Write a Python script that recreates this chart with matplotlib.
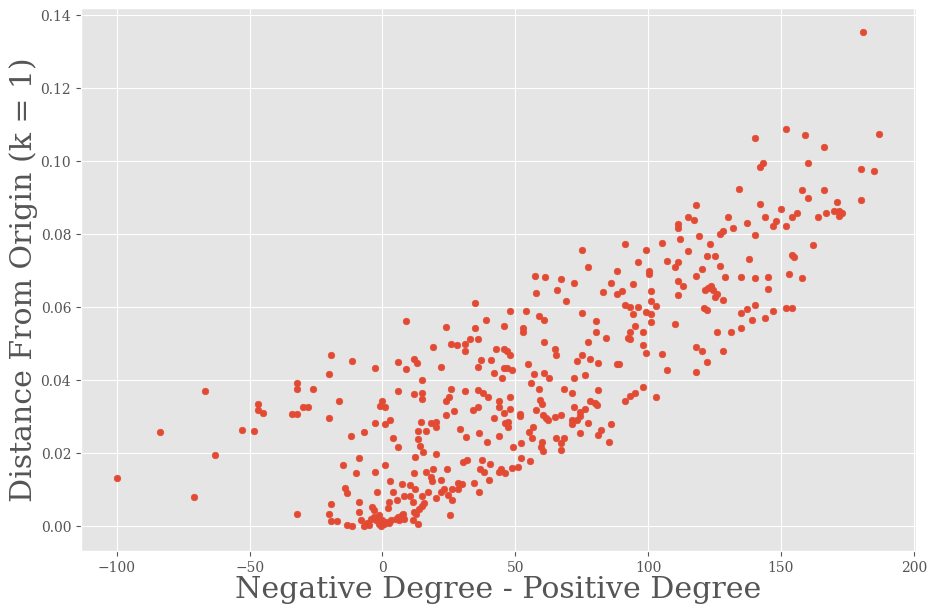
#!/usr/bin/env python3
"""Scatter of degree imbalance vs. distance from origin (k = 1)."""
import matplotlib
matplotlib.use("Agg")
import matplotlib.pyplot as plt

# (negative degree - positive degree, distance from origin), grouped by area of the plot
left_tail = [
    (-100, 0.0133), (-83.8, 0.0259), (-66.9, 0.0372), (-63.2, 0.0196), (-71.0, 0.0081),
    (-53.0, 0.0265), (-48.2, 0.0262), (-47.0, 0.0334), (-47.0, 0.0320), (-45.1, 0.0311),
    (-34.2, 0.0309), (-32.0, 0.0309), (-32.0, 0.0394), (-32.0, 0.0377), (-32.0, 0.0035),
    (-26.3, 0.0377), (-30.1, 0.0328), (-28.2, 0.0328), (-20.3, 0.0418), (-20.3, 0.0298),
    (-20.3, 0.0035), (-19.2, 0.0468), (-19.2, 0.0062), (-19.2, 0.0016), (-17.3, 0.0016),
    (-16.2, 0.0342), (-15.0, 0.0169), (-14.3, 0.0106), (-13.2, 0.0092), (-13.2, 0.0005),
    (-12.0, 0.0248), (-11.3, 0.0454), (-11.3, 0.0002), (-10.1, 0.0147), (-8.8, 0.0040),
]

near_origin = [
    (-3.0, 0.0284), (1.1, 0.0280), (14.4, 0.0287), (18.2, 0.0284), (20.1, 0.0287),
    (20.0, 0.0272), (-6.8, 0.0258), (4.1, 0.0242), (6.0, 0.0217), (13.2, 0.0262),
    (16.2, 0.0261), (13.2, 0.0239), (14.2, 0.0220), (15.1, 0.0205), (20.0, 0.0197),
    (12.1, 0.0189), (29.0, 0.0266), (31.3, 0.0245), (36.2, 0.0255), (39.2, 0.0230),
    (43.7, 0.0248), (46.0, 0.0284), (47.1, 0.0287), (47.1, 0.0272), (49.0, 0.0217),
    (52.0, 0.0228), (55.0, 0.0258), (56.5, 0.0273), (56.2, 0.0241), (60.1, 0.0232),
    (59.7, 0.0218), (60.3, 0.0207), (65.3, 0.0241), (62.2, 0.0292),
    (-8.8, 0.0186), (1.1, 0.0167), (-3.0, 0.0150), (11.7, 0.0147), (16.2, 0.0150),
    (19.2, 0.0156), (24.1, 0.0156), (30.2, 0.0175), (32.0, 0.0181), (37.3, 0.0181),
    (40.3, 0.0170), (36.7, 0.0156), (38.1, 0.0150), (43.7, 0.0148), (44.5, 0.0156),
    (46.0, 0.0145), (48.6, 0.0159), (50.9, 0.0163), (52.0, 0.0186), (55.5, 0.0178),
    (3.0, 0.0123), (7.2, 0.0117), (10.2, 0.0112), (12.1, 0.0101), (18.1, 0.0134),
    (18.5, 0.0123), (22.2, 0.0126), (28.3, 0.0120), (29.9, 0.0116), (34.3, 0.0120),
    (40.0, 0.0126), (-1.9, 0.0095), (4.1, 0.0095), (8.2, 0.0082), (10.2, 0.0084),
    (11.3, 0.0067), (14.7, 0.0083), (17.0, 0.0093), (20.0, 0.0079), (22.2, 0.0095),
    (23.2, 0.0101), (24.5, 0.0086), (26.0, 0.0073), (26.0, 0.0101), (28.3, 0.0101),
    (36.2, 0.0093), (5.3, 0.0073), (2.3, 0.0067), (-8.8, 0.0067), (-3.8, 0.0053),
    (-3.1, 0.0044), (1.9, 0.0049), (15.8, 0.0064), (14.7, 0.0055), (13.8, 0.0048),
    (12.8, 0.0035), (25.3, 0.0032),
    (-8.2, 0.0017), (-6.9, 0.0000), (-6.0, 0.0009), (-4.4, 0.0021), (-3.1, 0.0026),
    (-2.3, 0.0017), (-1.5, 0.0006), (-0.6, 0.0000), (0.0, 0.0017), (0.6, 0.0006),
    (1.5, 0.0012), (2.5, 0.0009), (5.0, 0.0021), (6.0, 0.0026), (7.3, 0.0030),
    (6.3, 0.0017), (8.2, 0.0021), (7.8, 0.0035), (11.3, 0.0017), (13.2, 0.0006),
    (11.9, 0.0039), (-1.3, 0.0030), (-5.0, 0.0003), (3.1, 0.0018),
]

middle_upper = [
    (57.8, 0.0639), (34.9, 0.0613), (9.0, 0.0563), (24.0, 0.0547), (39.0, 0.0566),
    (48.0, 0.0591), (54.0, 0.0591), (58.9, 0.0577), (60.8, 0.0566), (45.8, 0.0550),
    (34.9, 0.0542), (52.8, 0.0544), (52.8, 0.0531), (25.9, 0.0500), (28.1, 0.0498),
    (31.1, 0.0500), (33.0, 0.0514), (36.0, 0.0514), (31.1, 0.0481), (60.8, 0.0506),
    (19.1, 0.0490), (64.9, 0.0487), (65.4, 0.0468), (6.0, 0.0451), (12.0, 0.0459),
    (13.1, 0.0448), (9.0, 0.0432), (-3.0, 0.0435), (22.1, 0.0437), (42.8, 0.0487),
    (45.8, 0.0487), (46.9, 0.0479), (48.0, 0.0470), (37.1, 0.0457), (40.9, 0.0457),
    (36.0, 0.0437), (45.8, 0.0435), (46.9, 0.0435), (48.8, 0.0429), (42.0, 0.0421),
    (45.0, 0.0407), (54.8, 0.0446), (57.0, 0.0416), (60.8, 0.0421), (62.6, 0.0405),
    (55.9, 0.0394), (58.9, 0.0377), (15.0, 0.0402), (6.0, 0.0372), (12.0, 0.0363),
    (15.0, 0.0366), (15.0, 0.0350), (25.9, 0.0377), (25.1, 0.0355), (24.0, 0.0342),
    (31.1, 0.0372), (36.0, 0.0374), (37.9, 0.0366), (39.8, 0.0353), (48.0, 0.0353),
    (43.9, 0.0342), (43.9, 0.0328), (48.0, 0.0322), (45.8, 0.0311), (51.8, 0.0309),
    (51.8, 0.0303), (59.4, 0.0347), (60.0, 0.0336), (57.8, 0.0320), (60.6, 0.0304),
    (61.5, 0.0298), (65.0, 0.0300), (0.0, 0.0344), (-0.8, 0.0331), (1.1, 0.0328),
    (27.0, 0.0317), (24.0, 0.0306), (34.1, 0.0320), (36.0, 0.0328), (3.0, 0.0292),
    (42.0, 0.0298), (57.4, 0.0687), (61.1, 0.0684), (65.6, 0.0648),
]

right_lower = [
    (68.3, 0.0377), (71.3, 0.0366), (81.1, 0.0374), (98.0, 0.0383), (95.0, 0.0366),
    (93.1, 0.0358), (91.3, 0.0344), (102.9, 0.0353), (78.1, 0.0342), (80.0, 0.0338),
    (80.6, 0.0333), (72.1, 0.0328), (76.2, 0.0322), (74.3, 0.0314), (74.3, 0.0303),
    (67.3, 0.0306), (71.3, 0.0290), (73.2, 0.0290), (71.3, 0.0281), (77.3, 0.0284),
    (86.0, 0.0279), (82.2, 0.0265), (81.1, 0.0251), (74.3, 0.0257), (85.2, 0.0232),
    (68.3, 0.0243), (67.3, 0.0227), (67.3, 0.0210),
]

right_middle = [
    (118.0, 0.0879), (115.0, 0.0848), (117.3, 0.0840), (130.1, 0.0848), (132.0, 0.0818),
    (111.2, 0.0827), (111.2, 0.0816), (119.1, 0.0796), (127.1, 0.0802), (128.2, 0.0810),
    (112.0, 0.0788), (123.3, 0.0774), (105.2, 0.0777), (91.3, 0.0774), (75.1, 0.0758),
    (99.2, 0.0758), (115.0, 0.0755), (122.2, 0.0741), (125.2, 0.0741), (107.1, 0.0728),
    (111.2, 0.0725), (110.1, 0.0711), (96.2, 0.0725), (127.1, 0.0714), (120.3, 0.0706),
    (77.3, 0.0711), (88.3, 0.0700), (100.3, 0.0700), (100.3, 0.0692), (118.0, 0.0687),
    (128.9, 0.0684), (67.3, 0.0678), (72.1, 0.0667), (86.0, 0.0667), (94.3, 0.0665),
    (111.2, 0.0673), (113.1, 0.0657), (111.2, 0.0635), (83.0, 0.0643), (88.3, 0.0637),
    (90.1, 0.0646), (101.1, 0.0646), (121.4, 0.0648), (122.5, 0.0654), (123.7, 0.0657),
    (124.4, 0.0648), (125.9, 0.0637), (125.2, 0.0629), (128.2, 0.0621), (69.1, 0.0616),
    (101.1, 0.0618), (91.3, 0.0607), (93.2, 0.0602), (96.2, 0.0602), (103.0, 0.0604),
    (99.2, 0.0588), (101.1, 0.0583), (94.3, 0.0583), (121.0, 0.0599), (122.2, 0.0593),
    (75.1, 0.0585), (80.4, 0.0563), (101.1, 0.0561), (95.0, 0.0550), (110.1, 0.0553),
    (80.4, 0.0533), (84.1, 0.0517), (98.1, 0.0533), (93.2, 0.0531), (92.4, 0.0517),
    (93.2, 0.0514), (125.9, 0.0533), (131.2, 0.0531), (77.3, 0.0506), (98.1, 0.0498),
    (118.0, 0.0492), (120.3, 0.0479), (128.2, 0.0479), (75.1, 0.0468), (73.2, 0.0454),
    (78.1, 0.0459), (81.1, 0.0448), (88.3, 0.0446), (89.0, 0.0446), (99.2, 0.0476),
    (105.2, 0.0473), (122.2, 0.0451), (107.1, 0.0429), (118.0, 0.0424), (76.2, 0.0415),
    (72.1, 0.0407),
]

right_tail = [
    (162.1, 0.0772), (154.1, 0.0744), (155.0, 0.0739), (138.0, 0.0733), (134.8, 0.0684),
    (140.2, 0.0679), (145.1, 0.0684), (153.0, 0.0692), (158.0, 0.0681), (145.1, 0.0651),
    (140.2, 0.0607), (137.2, 0.0596), (134.8, 0.0585), (147.0, 0.0591), (151.9, 0.0599),
    (154.2, 0.0599), (139.1, 0.0564), (144.0, 0.0572), (134.8, 0.0544),
    (151.9, 0.1089), (140.2, 0.1065), (159.1, 0.1073), (166.2, 0.1040), (187.0, 0.1076),
    (143.3, 0.0994), (142.1, 0.0983), (160.2, 0.0994), (180.2, 0.0980), (185.1, 0.0972),
    (134.2, 0.0925), (158.0, 0.0922), (166.2, 0.0922), (160.2, 0.0900), (171.1, 0.0889),
    (180.2, 0.0895), (142.1, 0.0884), (150.0, 0.0868), (144.0, 0.0848), (137.2, 0.0832),
    (148.2, 0.0837), (147.0, 0.0824), (151.9, 0.0824), (154.2, 0.0846), (156.1, 0.0857),
    (164.0, 0.0848), (167.0, 0.0859), (170.0, 0.0865), (171.9, 0.0865), (171.9, 0.0851),
    (173.0, 0.0857), (140.2, 0.0797), (180.9, 0.1353),
]

groups = [left_tail, near_origin, middle_upper, right_lower, right_middle, right_tail]

plt.style.use("ggplot")
plt.rcParams["font.family"] = "DejaVu Serif"

fig = plt.figure(figsize=(9.35, 6.11), dpi=100)
ax = fig.add_axes([0.0866, 0.0985, 0.893, 0.8885])

xs = [p[0] for g in groups for p in g]
ys = [p[1] for g in groups for p in g]
ax.scatter(xs, ys, s=22, color="#E24A33", zorder=3)

ax.set_xlim(-113.5, 200.8)
ax.set_ylim(-0.0067, 0.142)
ax.set_yticks([0.0, 0.02, 0.04, 0.06, 0.08, 0.10, 0.12, 0.14])
ax.tick_params(labelsize=10)
ax.set_xlabel("Negative Degree - Positive Degree", fontsize=21.6, labelpad=1)
ax.set_ylabel("Distance From Origin (k = 1)", fontsize=21.6, labelpad=2)

fig.savefig("out.png", dpi=100)
